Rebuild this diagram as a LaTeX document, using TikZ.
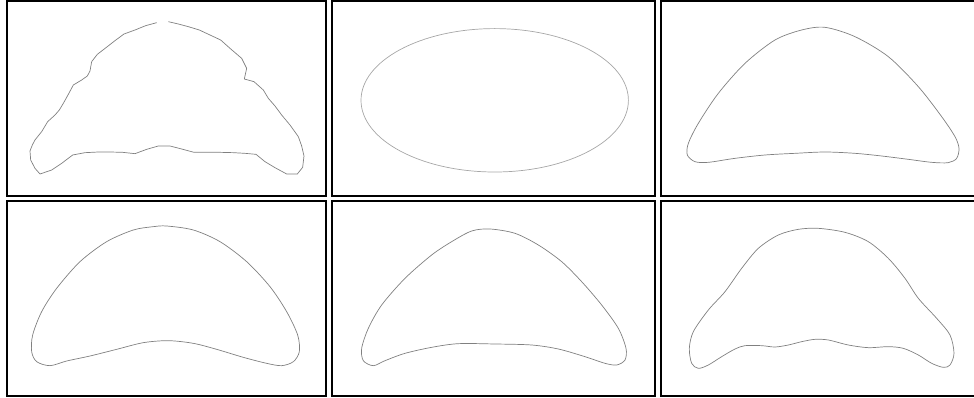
\documentclass[tikz,border=0pt]{standalone}
\usepackage{xcolor}
\usepackage{tikz}

\begin{document}
\begin{tikzpicture}[x=1pt, y=-1pt,
  frame/.style={draw=black, line width=2pt},
  outline/.style={draw=black!50, line width=0.7pt, line join=round},
  soft/.style={draw=black!35, line width=0.7pt}]
  \useasboundingbox (0,0) rectangle (974,398);
  \clip (0,0) rectangle (974,398);

  % Marcos
  \draw[frame] (7,1) rectangle (326,196);
  \draw[frame] (332,1) rectangle (655,196);
  \draw[frame] (661,1) rectangle (990,196);
  \draw[frame] (7,201) rectangle (326,396);
  \draw[frame] (332,201) rectangle (655,396);
  \draw[frame] (661,201) rectangle (990,396);

  % Contorno inicial (poligonal abierta)
  \begin{scope}[scale=1/3]
    \draw[outline] (505,65) -- (535,72) -- (565,80) -- (598,90) -- (630,105)
      -- (662,120) -- (690,145) -- (725,175) -- (740,205) -- (733,237)
      -- (762,245) -- (790,270) -- (805,295) -- (825,318) -- (845,345)
      -- (870,375) -- (895,410) -- (905,438) -- (912,468) -- (908,502)
      -- (892,522) -- (860,522) -- (825,503) -- (795,485) -- (768,463)
      -- (735,460) -- (700,458) -- (660,457) -- (620,457) -- (582,457)
      -- (545,447) -- (510,438) -- (475,438) -- (440,448) -- (405,461)
      -- (368,457) -- (330,456) -- (295,456) -- (255,458) -- (218,465)
      -- (185,490) -- (155,510) -- (120,522) -- (105,505) -- (92,480)
      -- (90,453) -- (97,435) -- (105,420) -- (125,395) -- (143,365)
      -- (165,345) -- (178,330) -- (190,310) -- (205,283) -- (220,255)
      -- (245,240) -- (262,228) -- (270,213) -- (275,185) -- (292,163)
      -- (318,143) -- (345,122) -- (372,102) -- (405,90) -- (437,77)
      -- (470,68);
  \end{scope}

  % Elipse
  \draw[soft] (494.7,100.3) ellipse [x radius=133.7, y radius=71.7];

  % Iteraciones
  \begin{scope}[shift={(655,0)}, scale=1/3]
    \draw[outline] plot[smooth cycle, tension=0.5] coordinates {
      (510,82) (600,110) (700,170) (790,260) (860,350) (900,410) (912,445)
      (905,475) (880,488) (830,487) (760,478) (680,468) (600,460) (510,456)
      (420,460) (330,465) (240,475) (160,487) (120,485) (97,465) (100,430)
      (130,370) (190,280) (270,190) (360,120) (440,90)};
  \end{scope}

  \begin{scope}[shift={(0,195)}, scale=1/3]
    \draw[outline] plot[smooth cycle, tension=0.5] coordinates {
      (500,93) (580,105) (660,140) (740,200) (810,275) (860,350) (893,420)
      (898,470) (880,500) (845,512) (800,505) (730,487) (650,463) (580,445)
      (505,437) (430,443) (350,463) (270,483) (200,498) (150,512) (110,500)
      (95,470) (98,420) (125,350) (170,280) (240,200) (320,140) (400,105)
      (460,95)};
  \end{scope}

  \begin{scope}[shift={(325,195)}, scale=1/3]
    \draw[outline] plot[smooth cycle, tension=0.5] coordinates {
      (495,102) (570,115) (640,150) (710,200) (770,260) (830,330) (880,400)
      (903,460) (900,495) (875,510) (840,505) (780,485) (700,462) (620,450)
      (510,447) (400,446) (320,457) (240,475) (180,497) (145,512) (115,497)
      (110,460) (130,400) (170,330) (240,250) (320,180) (380,140) (440,108)};
  \end{scope}

  \begin{scope}[shift={(655,195)}, scale=1/3]
    \draw[outline] plot[smooth cycle, tension=0.5] coordinates {
      (490,100) (570,112) (640,140) (700,190) (750,250) (790,310) (845,370)
      (885,420) (897,475) (885,510) (865,517) (830,505) (790,480) (745,460)
      (700,455) (640,458) (580,450) (520,435) (480,433) (440,440) (400,450)
      (360,456) (320,452) (270,452) (240,462) (200,485) (160,510) (130,520)
      (110,505) (103,460) (115,410) (160,345) (210,290) (260,220) (310,160)
      (370,120) (430,103)};
  \end{scope}
\end{tikzpicture}
\end{document}
